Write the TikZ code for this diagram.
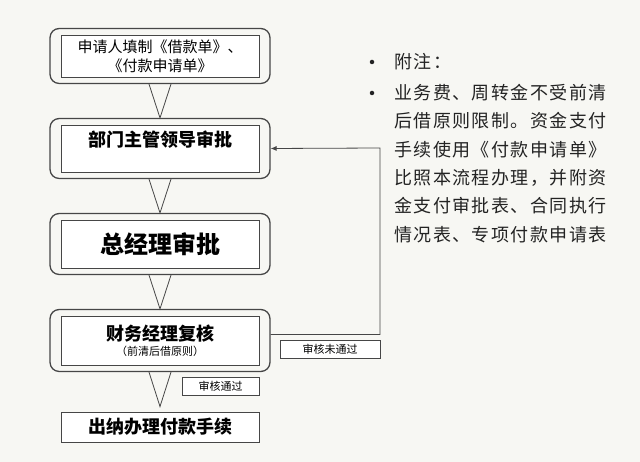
\documentclass[tikz,border=0pt]{standalone}
\usepackage{fontspec}
\setmainfont{Noto Sans CJK SC}
\newfontfamily\notefont[LetterSpace=8]{Noto Sans CJK SC}
\usepackage{tikz}
\usetikzlibrary{arrows.meta, positioning, fit, calc}
\definecolor{pagecolor}{RGB}{247, 247, 243}
\definecolor{linecolor}{RGB}{70, 70, 70}
\definecolor{notecolor}{RGB}{35, 35, 35}

\begin{document}
\begin{tikzpicture}[
    x=1pt, y=-1pt,
    stepbox/.style={draw=linecolor, line width=0.9pt, fill=white, minimum width=198pt, align=center, inner sep=0pt},
    frame/.style={draw=linecolor, line width=1.3pt, rounded corners=9pt, inner xsep=10.5pt, inner ysep=6pt},
    tag/.style={draw=linecolor, line width=0.8pt, fill=white, font=\fontsize{11}{11}\selectfont, inner sep=0pt, minimum height=18pt},
    funnel/.style={draw=linecolor, line width=0.8pt},
    back/.style={-{Latex[length=6pt, width=5pt]}, draw=linecolor, line width=0.8pt},
    notedot/.style={circle, fill=notecolor, minimum size=4.5pt, inner sep=0pt},
    note/.style={font=\notefont\fontsize{18}{28.3}\selectfont, align=left, text=notecolor, inner sep=0pt}
]
    \fill[pagecolor] (0, 0) rectangle (640, 462);
    \useasboundingbox (0, 0) rectangle (640, 462);

    % Steps
    \node[stepbox, minimum height=42pt, font=\fontsize{15}{19}\selectfont] (req) at (160, 56) {申请人填制《借款单》、\\《付款申请单》};
    \node[stepbox, minimum height=47pt, font=\fontsize{18}{18}\selectfont\bfseries, text depth=19pt] (dept) at (160, 148.5) {部门主管领导审批};
    \node[stepbox, minimum height=48pt, font=\fontsize{24}{24}\selectfont\bfseries] (gm) at (160, 244) {总经理审批};
    \node[stepbox, minimum height=49pt, font=\fontsize{18}{18}\selectfont\bfseries] (fin) at (160, 340.5) {财务经理复核\\[-3pt]{\fontsize{11}{11}\selectfont\mdseries （前清后借原则）}};
    \node[stepbox, minimum height=30pt, font=\fontsize{18}{18}\selectfont\bfseries] (pay) at (160, 427) {出纳办理付款手续};

    % Frames
    \node[frame, fit=(req)] (reqframe) {};
    \node[frame, fit=(dept)] (deptframe) {};
    \node[frame, fit=(gm)] (gmframe) {};
    \node[frame, fit=(fin)] (finframe) {};

    % Arrows
    \draw[funnel] ([xshift=-11pt]reqframe.south) -- (deptframe.north) -- ([xshift=11pt]reqframe.south);
    \draw[funnel] ([xshift=-11pt]deptframe.south) -- (gmframe.north) -- ([xshift=11pt]deptframe.south);
    \draw[funnel] ([xshift=-11pt]gmframe.south) -- (finframe.north) -- ([xshift=11pt]gmframe.south);
    \draw[funnel] ([xshift=-11pt]finframe.south) -- ([yshift=5pt]pay.north) -- ([xshift=11pt]finframe.south);

    % Return path
    \coordinate (turn) at (380, 148);
    \draw[back] ([yshift=6pt]finframe.east) -| (turn) -- (deptframe.east);

    % Tags
    \node[tag, minimum width=77pt] (pass) at (220.5, 386) {审核通过};
    \node[tag, minimum width=100pt] (fail) at (330, 349) {审核未通过};

    % Note
    \node[notedot] (dot1) at (372, 62) {};
    \node[notedot] (dot2) at (372, 93) {};
    \node[note, anchor=north west] (head) at (394, 52.7) {附注：};
    \node[note, anchor=north west] (body) at (394, 84.2) {业务费、周转金不受前清\\后借原则限制。资金支付\\手续使用《付款申请单》\\比照本流程办理，并附资\\金支付审批表、合同执行\\情况表、专项付款申请表};
\end{tikzpicture}
\end{document}
